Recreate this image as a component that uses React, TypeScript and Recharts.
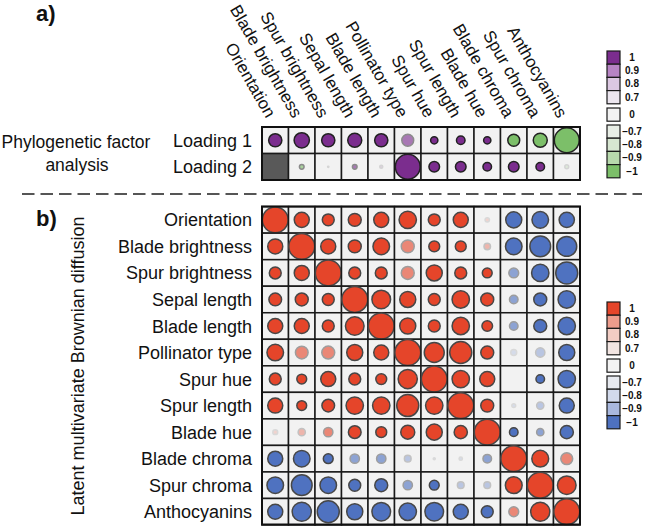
import { ScatterChart, Scatter, XAxis, YAxis } from 'recharts';

const traits = [
	'Orientation',
	'Blade brightness',
	'Spur brightness',
	'Sepal length',
	'Blade length',
	'Pollinator type',
	'Spur hue',
	'Spur length',
	'Blade hue',
	'Blade chroma',
	'Spur chroma',
	'Anthocyanins',
];

const loadingNames = ['Loading 1', 'Loading 2'];

// factor loadings (circle size) and their support level (colour strength)
const loading1 = [0.51, 0.59, 0.51, 0.54, 0.51, 0.46, 0.28, 0.33, 0.28, -0.46, -0.54, -0.96];
const loading1Support = [1, 1, 1, 1, 1, 0.9, 1, 1, 1, 1, 1, 1];
const loading2 = [null, -0.18, -0.05, 0.18, 0.12, 0.96, 0.41, 0.41, 0.33, 0.41, 0.33, -0.15];
const loading2Support = [0, 0.9, 0.7, 0.9, 0.7, 1, 1, 1, 1, 1, 1, 0.7];

// latent correlations between traits
const correlations = [
	[1, 0.58, 0.46, 0.5, 0.58, 0.67, 0.46, 0.58, 0.17, -0.62, -0.64, -0.59],
	[0.58, 1, 0.58, 0.5, 0.64, 0.5, 0.42, 0.42, 0.25, -0.64, -0.8, -0.77],
	[0.46, 0.58, 1, 0.46, 0.46, 0.5, 0.62, 0.46, 0.38, -0.38, -0.67, -0.85],
	[0.49, 0.5, 0.46, 1, 0.72, 0.62, 0.46, 0.67, 0.5, -0.33, -0.5, -0.67],
	[0.58, 0.58, 0.46, 0.72, 1, 0.62, 0.46, 0.67, 0.41, -0.33, -0.5, -0.67],
	[0.64, 0.49, 0.5, 0.62, 0.58, 1, 0.77, 0.85, 0.5, -0.23, -0.36, -0.62],
	[0.46, 0.38, 0.58, 0.46, 0.42, 0.74, 1, 0.67, 0.58, 0, -0.33, -0.67],
	[0.58, 0.38, 0.49, 0.67, 0.67, 0.85, 0.67, 1, 0.5, -0.15, -0.28, -0.58],
	[0.19, 0.28, 0.36, 0.49, 0.42, 0.54, 0.62, 0.51, 1, -0.33, -0.28, -0.51],
	[-0.58, -0.64, -0.38, -0.36, -0.36, -0.26, -0.08, -0.13, -0.33, 1, 0.65, 0.46],
	[-0.64, -0.8, -0.64, -0.46, -0.5, -0.36, -0.38, -0.26, -0.26, 0.65, 1, 0.72],
	[-0.58, -0.74, -0.85, -0.62, -0.72, -0.67, -0.72, -0.58, -0.46, 0.38, 0.74, 1],
];

const support = [
	[1, 1, 1, 1, 1, 1, 1, 1, 0.7, 1, 1, 1],
	[1, 1, 1, 1, 1, 0.9, 1, 1, 0.8, 1, 1, 1],
	[1, 1, 1, 1, 1, 0.9, 1, 1, 1, 0.9, 1, 1],
	[1, 1, 1, 1, 1, 1, 1, 1, 1, 0.9, 1, 1],
	[1, 1, 1, 1, 1, 1, 1, 1, 1, 0.9, 1, 1],
	[1, 0.9, 0.9, 1, 1, 1, 1, 1, 1, 0.7, 0.8, 1],
	[1, 1, 1, 1, 1, 1, 1, 1, 1, 0, 1, 1],
	[1, 1, 1, 1, 1, 1, 1, 1, 1, 0.7, 0.8, 1],
	[0.7, 0.8, 0.9, 1, 1, 1, 1, 1, 1, 1, 0.9, 1],
	[1, 1, 1, 0.9, 0.9, 0.8, 0.7, 0.7, 0.9, 1, 1, 0.9],
	[1, 1, 1, 1, 1, 0.9, 1, 0.8, 0.8, 1, 1, 1],
	[1, 1, 1, 1, 1, 1, 1, 1, 1, 0.9, 1, 1],
];

const legendLevels = [1, 0.9, 0.8, 0.7, 0, -0.7, -0.8, -0.9, -1];
const legendLabels = ['1', '0.9', '0.8', '0.7', '0', '\u22120.7', '\u22120.8', '\u22120.9', '\u22121'];

const font = '"Liberation Sans", Arial, Helvetica, sans-serif';
const cellSize = 26.5;
const gridLeft = 262;
const bg = '#f2f2f2';

const palettes = {
	a: { pos: '#7b2d8e', neg: '#7cbf69', stroke: '#222222', legend: ['#7b2d8e', '#b784c4', '#dcc8e2', '#ece6ef', '#f2f2f2', '#e8eee6', '#d7e6d1', '#b8d9ad', '#7cbf69'] },
	b: { pos: '#e5452a', neg: '#4f72c0', stroke: '#474747', legend: ['#e5452a', '#ed9c8c', '#f2cdc4', '#f2e5e2', '#f3f3f3', '#e6e9ef', '#d2daec', '#a9b8de', '#4e71bf'] },
};

const strength: Record<string, number> = { '1': 1, '0.9': 0.62, '0.8': 0.35, '0.7': 0.18, '0': 0 };

const hex = (c: string) => [1, 3, 5].map(i => parseInt(c.slice(i, i + 2), 16));
const mix = (a: string, b: string, t: number) => {
	const A = hex(a);
	const B = hex(b);
	const m = A.map((v, i) => Math.round(v + (B[i] - v) * t));
	return `rgb(${m[0]},${m[1]},${m[2]})`;
};

type Pt = { x: number; y: number; v: number | null; s: number; panel: 'a' | 'b' };

const pointsA: Pt[] = [loading1, loading2].flatMap((row, r) =>
	row.map((v, c) => ({ x: c + 0.5, y: r + 0.5, v, s: r === 0 ? loading1Support[c] : loading2Support[c], panel: 'a' as const }))
);

const pointsB: Pt[] = correlations.flatMap((row, r) =>
	row.map((v, c) => ({ x: c + 0.5, y: 3 + r + 0.5, v, s: support[r][c], panel: 'b' as const }))
);

const CellShape = (props: any) => {
	const { cx, cy, payload } = props;
	const p: Pt = payload;
	const pal = palettes[p.panel];
	const half = cellSize / 2;
	if (p.v === null) {
		return <rect x={cx - half} y={cy - half} width={cellSize} height={cellSize} fill='#595959' stroke='#1a1a1a' strokeWidth={1.5} />;
	}
	const t = strength[String(p.s)] ?? 0;
	const full = p.v >= 0 ? pal.pos : pal.neg;
	const fill = t >= 1 ? full : mix(bg, full, t);
	const stroke = t >= 1 ? pal.stroke : mix(bg, pal.stroke, t * 0.8);
	const r = Math.abs(p.v) * (half - 0.3);
	return (
		<g>
			<rect x={cx - half} y={cy - half} width={cellSize} height={cellSize} fill={bg} stroke='#1a1a1a' strokeWidth={1.5} />
			{t > 0 && r > 0.5 && <circle cx={cx} cy={cy} r={r} fill={fill} stroke={stroke} strokeWidth={1.5} />}
		</g>
	);
};

const rowTicks = [0.5, 1.5, ...traits.map((_, i) => 3.5 + i)];

const RowTick = (props: any) => {
	const { y, payload } = props;
	const v = payload.value;
	const isA = v < 3;
	const label = isA ? loadingNames[Math.floor(v)] : traits[Math.floor(v - 3)];
	return (
		<text x={252} y={y} dy={6.5} textAnchor='end' fontSize={18} fontFamily={font} fill='#111'>
			{label}
		</text>
	);
};

const Legend = ({ top, colors }: { top: number; colors: string[] }) => (
	<g>
		{legendLevels.map((lv, i) => {
			const y = i < 4 ? top + i * 13.2 : i === 4 ? top + 57 : top + 74 + (i - 5) * 13.2;
			return (
				<g key={lv}>
					<rect x={607} y={y} width={13} height={13.2} fill={colors[i]} stroke='#1a1a1a' strokeWidth={1.2} />
					<text x={632} y={y + 10} textAnchor='middle' fontSize={10} fontWeight='bold' fontFamily={font} fill='#111'>
						{legendLabels[i]}
					</text>
				</g>
			);
		})}
	</g>
);

const App = () => {
	return (
		<div style={{ position: 'absolute', left: 0, top: 0, width: 647, height: 526, background: '#fff' }}>
			<ScatterChart width={647} height={526} margin={{ top: 127, right: 67, bottom: 1, left: 0 }}>
				<XAxis type='number' dataKey='x' domain={[0, 12]} hide height={0} />
				<YAxis
					type='number'
					dataKey='y'
					domain={[0, 15]}
					reversed
					width={gridLeft}
					ticks={rowTicks}
					tick={RowTick}
					axisLine={false}
					tickLine={false}
					interval={0}
				/>
				<Scatter data={pointsA} shape={CellShape} isAnimationActive={false} />
				<Scatter data={pointsB} shape={CellShape} isAnimationActive={false} />
			</ScatterChart>
			<svg width={647} height={526} style={{ position: 'absolute', left: 0, top: 0, pointerEvents: 'none' }}>
				<rect x={gridLeft} y={127} width={318} height={53} fill='none' stroke='#111' strokeWidth={2} />
				<rect x={gridLeft} y={206.5} width={318} height={318} fill='none' stroke='#111' strokeWidth={2} />
				{traits.map((t, i) => (
					<text
						key={t}
						transform={`translate(${gridLeft + (i + 0.5) * cellSize - 9},119) rotate(60)`}
						textAnchor='end'
						fontSize={17}
						fontFamily={font}
						fill='#111'
					>
						{t}
					</text>
				))}
				<text x={36} y={21} fontSize={22} fontWeight='bold' fontFamily={font} fill='#111'>
					a)
				</text>
				<text x={36} y={226} fontSize={22} fontWeight='bold' fontFamily={font} fill='#111'>
					b)
				</text>
				<text x={76} y={148} textAnchor='middle' fontSize={17.5} fontFamily={font} fill='#111'>
					Phylogenetic factor
				</text>
				<text x={77} y={171} textAnchor='middle' fontSize={17.5} fontFamily={font} fill='#111'>
					analysis
				</text>
				<text transform='translate(84,366) rotate(-90)' textAnchor='middle' fontSize={18} fontFamily={font} fill='#111'>
					Latent multivariate Brownian diffusion
				</text>
				<line x1={22} y1={194} x2={642} y2={194} stroke='#555' strokeWidth={2} strokeDasharray='12.5 6' />
				<Legend top={51} colors={palettes.a.legend} />
				<Legend top={302} colors={palettes.b.legend} />
			</svg>
		</div>
	);
};

export default App;
